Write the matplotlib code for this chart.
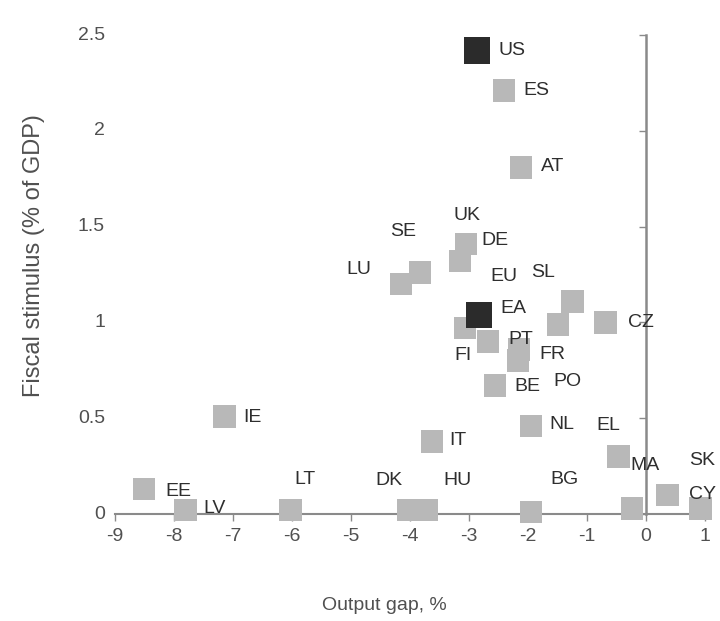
import matplotlib
matplotlib.use('Agg')
import matplotlib.pyplot as plt

plt.rcParams['font.family'] = ['Liberation Sans', 'DejaVu Sans']

# countries, output gap (%) and fiscal stimulus (% of GDP)
countries = ['US', 'ES', 'AT', 'DE', 'UK', 'SE', 'LU', 'EU', 'SL', 'FI', 'PT',
             'FR', 'PO', 'CZ', 'BE', 'NL', 'EL', 'IE', 'IT', 'MA', 'SK', 'CY',
             'EE', 'LV', 'LT', 'DK', 'HU', 'BG', 'EA']
output_gap = [-2.86, -2.41, -2.12, -3.05, -3.15, -3.83, -4.15, -1.49, -1.25,
              -3.07, -2.68, -2.15, -2.17, -0.69, -2.56, -1.95, -0.24, -7.14,
              -3.63, -0.47, 0.92, 0.36, -8.51, -7.80, -6.03, -4.03, -3.71,
              -1.95, -2.83]
stimulus = [2.42, 2.21, 1.81, 1.41, 1.32, 1.26, 1.20, 0.99, 1.11, 0.97, 0.90,
            0.86, 0.80, 1.00, 0.67, 0.46, 0.03, 0.51, 0.38, 0.30, 0.03, 0.10,
            0.13, 0.02, 0.02, 0.02, 0.02, 0.01, 1.04]
dark = ['US', 'EA']

x_ticks = [-9, -8, -7, -6, -5, -4, -3, -2, -1, 0, 1]
y_ticks = [0, 0.5, 1, 1.5, 2, 2.5]
y_tick_labels = ['0', '0.5', '1', '1.5', '2', '2.5']

# where each label sits relative to its square (pixels, right / up)
label_offset = {
    'US': (35, 0), 'ES': (33, 0), 'AT': (32, 1), 'DE': (29, 3), 'UK': (7, 46),
    'SE': (-17, 41), 'LU': (-42, 15), 'EU': (-54, 48), 'SL': (-29, 29),
    'EA': (34, 6), 'FI': (-2, -27), 'PT': (33, 2), 'FR': (33, -5),
    'PO': (49, -21), 'CZ': (36, 0), 'BE': (32, -1), 'NL': (31, 1),
    'EL': (-24, 83), 'IE': (28, -1), 'IT': (26, 1), 'MA': (27, -9),
    'SK': (2, 48), 'CY': (35, 0), 'EE': (34, -2), 'LV': (29, 2),
    'LT': (15, 31), 'DK': (-19, 30), 'HU': (30, 30), 'BG': (34, 33),
}

fig = plt.figure(figsize=(7.2, 6.21), dpi=100)
ax = fig.add_axes([0.1597, 0.1723, 0.8236, 0.7713])

axis_grey = '#8a8a8a'
text_grey = '#2e2e2e'
tick_grey = '#505050'

for c, gx, st in zip(countries, output_gap, stimulus):
    is_dark = c in dark
    ax.scatter(gx, st, marker='s', s=360 if is_dark else 265,
               color='#2b2b2b' if is_dark else '#b8b8b8',
               edgecolors='none', zorder=4 if is_dark else 3, clip_on=False)
    dx, dy = label_offset[c]
    ax.annotate(c, (gx, st), xytext=(dx, dy), textcoords='offset pixels',
                ha='center', va='center', fontsize=14, color=text_grey,
                zorder=5)

ax.set_xlim(-9, 1.05)
ax.set_ylim(0, 2.5)

for side in ['top', 'right']:
    ax.spines[side].set_visible(False)
ax.spines['left'].set_position(('data', 0))
ax.spines['left'].set_bounds(0, 2.5)
ax.spines['left'].set_color(axis_grey)
ax.spines['left'].set_linewidth(1.8)
ax.spines['bottom'].set_bounds(-9, 1)
ax.spines['bottom'].set_color(axis_grey)
ax.spines['bottom'].set_linewidth(1.5)

ax.set_xticks(x_ticks)
ax.set_xticklabels([str(t) for t in x_ticks])
ax.set_yticks(y_ticks)
ax.tick_params(axis='x', direction='out', length=5, width=1, color=axis_grey,
               labelsize=14, labelcolor=tick_grey, pad=5)
ax.tick_params(axis='y', direction='out', length=5, width=1, color=axis_grey,
               labelleft=False)

# y tick labels sit at the left edge, away from the axis line at x = 0
for v, lab in zip(y_ticks, y_tick_labels):
    ax.text(-0.017, v, lab, transform=ax.get_yaxis_transform(), ha='right',
            va='center', fontsize=14, color=tick_grey)

fig.text(384 / 720, 1 - 606 / 621, 'Output gap, %', ha='center', va='center',
         fontsize=14, color=tick_grey)
fig.text(34 / 720, 1 - 256 / 621, 'Fiscal stimulus (% of GDP)', rotation=90,
         ha='center', va='center', fontsize=17, color=tick_grey)

fig.savefig('out.png', dpi=100)
